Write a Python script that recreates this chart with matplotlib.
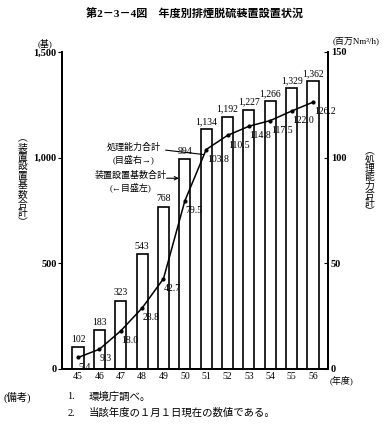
import numpy as np
import matplotlib
matplotlib.use("Agg")
import matplotlib.pyplot as plt
from matplotlib.ticker import FuncFormatter

plt.rcParams['font.family'] = ['Liberation Serif', 'Noto Sans CJK JP', 'DejaVu Sans']

# -------------------------------
# Data
# -------------------------------
years = ["45", "46", "47", "48", "49", "50", "51", "52", "53", "54", "55", "56"]
units = [102, 183, 323, 543, 768, 994, 1134, 1192, 1227, 1266, 1329, 1362]
capacity = [5.4, 9.3, 18.0, 28.8, 42.7, 79.5, 103.8, 110.5, 114.8, 117.5, 122.0, 126.2]

x = np.arange(len(years))

fig = plt.figure(figsize=(3.9, 4.25), dpi=100)
ax = fig.add_axes([0.159, 0.132, 0.682, 0.746])
ax2 = ax.twinx()

# bars (left scale)
ax.bar(x, units, width=0.52, facecolor='white', edgecolor='black', linewidth=1.2, zorder=2)
for xi, v in zip(x, units):
    ax.text(xi, v + 15, f"{v:,}", ha='center', va='bottom', fontsize=7)

# capacity line (right scale)
ax2.plot(x, capacity, color='black', lw=1.1, marker='o', markersize=2, zorder=3)
for xi, v in zip(x, capacity):
    ax2.annotate(f"{v:.1f}", (xi, v), xytext=(0.5, -7), textcoords='offset points',
                 ha='left', va='center', fontsize=7)

ax.set_xlim(-0.75, 11.7)
ax.set_ylim(0, 1500)
ax2.set_ylim(0, 150)

ax.set_yticks([0, 500, 1000, 1500])
ax.yaxis.set_major_formatter(FuncFormatter(lambda v, p: f"{int(v):,}"))
ax2.set_yticks([0, 50, 100, 150])
ax.set_xticks(x)
ax.set_xticklabels(years)
ax.tick_params(axis='x', length=0, labelsize=7, pad=2)
ax.tick_params(axis='y', direction='out', length=3, labelsize=7.5, pad=1)
ax2.tick_params(axis='y', direction='in', length=3, labelsize=7.5, pad=2)
for t in ax.get_yticklabels() + ax2.get_yticklabels():
    t.set_fontweight('bold')

for a in (ax, ax2):
    a.spines['top'].set_visible(False)
    for s in ('left', 'right', 'bottom'):
        a.spines[s].set_linewidth(1.4)

# annotations (callout texts with leader lines)
ax2.text(2.6, 107, "処理能力合計\n(目盛右→)", ha='center', va='top',
         fontsize=6.5, linespacing=1.25)
ax2.annotate("", xy=(5.9, 101.4), xytext=(4.1, 103.5),
             arrowprops=dict(arrowstyle='-', lw=0.8, color='black', shrinkA=0, shrinkB=0))
ax.text(2.45, 935, "装置設置基数合計\n(←目盛左)", ha='center', va='top',
        fontsize=6.5, linespacing=1.25)
ax.annotate("", xy=(4.72, 902), xytext=(4.15, 902),
            arrowprops=dict(arrowstyle='->', lw=0.8, color='black', shrinkA=0, shrinkB=0,
                            mutation_scale=6))

# titles and axis labels
fig.text(0.5, 0.967, "第2－3－4図　年度別排煙脱硫装置設置状況", ha='center', va='center',
         fontsize=8, fontweight='bold')
fig.text(0.115, 0.897, "(基)", ha='center', va='center', fontsize=6.5)
fig.text(0.852, 0.905, "(百万Nm³/h)", ha='left', va='center', fontsize=6.5)

left_label = "︵装置設置基数合計︶"
right_label = "︵処理能力合計︶"
for i, ch in enumerate(left_label):
    fig.text(0.057, 1 - (138 + i * 9.4) / 425, ch, ha='center', va='center',
             fontsize=7, family='Noto Sans CJK JP')
for i, ch in enumerate(right_label):
    fig.text(0.948, 1 - (151 + i * 8.6) / 425, ch, ha='center', va='center',
             fontsize=7, family='Noto Sans CJK JP')
fig.text(0.875, 0.105, "(年度)", ha='center', va='center', fontsize=6.5)

# notes
fig.text(0.008, 0.066, "(備考)", ha='left', va='center', fontsize=7.5)
fig.text(0.172, 0.066, "1.", ha='left', va='center', fontsize=7.5)
fig.text(0.228, 0.066, "環境庁調べ。", ha='left', va='center', fontsize=7.5)
fig.text(0.172, 0.028, "2.", ha='left', va='center', fontsize=7.5)
fig.text(0.228, 0.028, "当該年度の１月１日現在の数値である。", ha='left', va='center', fontsize=7.5)

fig.savefig("out.png", dpi=100)
